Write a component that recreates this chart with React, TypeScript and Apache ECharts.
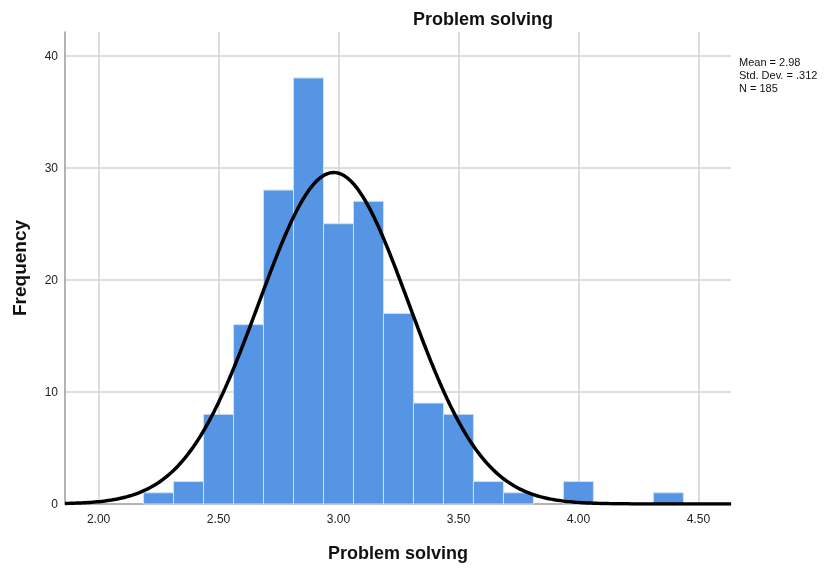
import React, { useEffect, useRef } from "react";
import * as echarts from "echarts";

// Histogram data (bin centers, bin width 0.125)
const binCenters = [2.25, 2.375, 2.5, 2.625, 2.75, 2.875, 3.0, 3.125, 3.25, 3.375, 3.5, 3.625, 3.75, 3.875, 4.0, 4.125, 4.25, 4.375];
const counts = [1, 2, 8, 16, 28, 38, 25, 27, 17, 9, 8, 2, 1, 0, 2, 0, 0, 1];
const binWidth = 0.125;

// Displayed statistics (normal curve parameters)
const statMean = 2.98;
const statSd = 0.312;
const statN = 185;
const statLabels = ["Mean = 2.98", "Std. Dev. = .312", "N = 185"];

const xTicks = [2.0, 2.5, 3.0, 3.5, 4.0, 4.5];
const yTicks = [0, 10, 20, 30, 40];
const xMin = 1.86;
const xMax = 4.636;
const yMax = 42.1;

const title = "Problem solving";
const xName = "Problem solving";
const yName = "Frequency";

export default function App() {
  const ref = useRef<HTMLDivElement>(null);
  useEffect(() => {
    if (!ref.current) return;
    const chart = echarts.init(ref.current, null, { renderer: "svg" });

    const curve: number[][] = [];
    const steps = 300;
    for (let i = 0; i <= steps; i++) {
      const x = xMin + ((xMax - xMin) * i) / steps;
      const z = (x - statMean) / statSd;
      const y = (statN * binWidth) / (statSd * Math.sqrt(2 * Math.PI)) * Math.exp(-0.5 * z * z);
      curve.push([x, y]);
    }

    const bars = binCenters.map((c, i) => [c - binWidth / 2, c + binWidth / 2, counts[i]]).filter((d) => d[2] > 0);

    const gridLine = { color: "#d2d2d2", width: 1.5, type: "solid" as const };

    chart.setOption({
      animation: false,
      textStyle: { fontFamily: "Liberation Sans, Arial, sans-serif" },
      title: {
        text: title,
        left: 413,
        top: 10,
        padding: 0,
        textStyle: { fontSize: 18, fontWeight: "bold", color: "#111", fontFamily: "Liberation Sans, Arial, sans-serif" },
      },
      graphic: [
        {
          type: "text",
          left: 739,
          top: 55,
          style: {
            text: statLabels.join("\n"),
            fontSize: 11,
            lineHeight: 13,
            fill: "#111",
            fontFamily: "Liberation Sans, Arial, sans-serif",
          },
        },
      ],
      grid: { left: 65, right: 101, top: 32, bottom: 64, containLabel: false, outerBoundsMode: "none" },
      xAxis: {
        type: "value",
        min: xMin,
        max: xMax,
        name: xName,
        nameLocation: "middle",
        nameGap: 40,
        nameTextStyle: { fontSize: 18, fontWeight: "bold", color: "#111" },
        axisLine: { show: true, onZero: false, lineStyle: { color: "#9a9a9a", width: 1.5 } },
        axisTick: { show: false },
        splitLine: { show: false },
        axisLabel: {
          customValues: xTicks,
          formatter: (v: number) => v.toFixed(2),
          fontSize: 12,
          color: "#222",
          margin: 9,
        },
      },
      yAxis: {
        type: "value",
        min: 0,
        max: yMax,
        name: yName,
        nameLocation: "middle",
        nameGap: 36,
        nameTextStyle: { fontSize: 19, fontWeight: "bold", color: "#111" },
        axisLine: { show: true, lineStyle: { color: "#9a9a9a", width: 1.5 } },
        axisTick: { show: false },
        splitLine: { show: false },
        axisLabel: {
          customValues: yTicks,
          fontSize: 12,
          color: "#222",
          margin: 7,
        },
      },
      series: [
        {
          type: "line",
          data: [],
          silent: true,
          z: 0,
          markLine: {
            silent: true,
            symbol: "none",
            label: { show: false },
            lineStyle: gridLine,
            z: 0,
            data: [
              ...xTicks.map((v) => ({ xAxis: v })),
              ...yTicks.filter((v) => v > 0).map((v) => ({ yAxis: v })),
            ],
          },
        },
        {
          type: "custom",
          data: bars,
          z: 3,
          renderItem: (params: any, api: any) => {
            const lo = api.value(0);
            const hi = api.value(1);
            const c = api.value(2);
            const p0 = api.coord([lo, c]);
            const p1 = api.coord([hi, 0]);
            return {
              type: "rect",
              shape: { x: p0[0], y: p0[1], width: p1[0] - p0[0], height: p1[1] - p0[1] },
              style: { fill: "#5595e3", stroke: "#cfe0f7", lineWidth: 1 },
            };
          },
          encode: { x: [0, 1], y: 2 },
        },
        {
          type: "line",
          data: curve,
          showSymbol: false,
          smooth: false,
          lineStyle: { color: "#000", width: 3.5 },
          z: 5,
        },
      ],
    });
    return () => chart.dispose();
  }, []);
  return <div ref={ref} style={{ position: "fixed", left: 0, top: 0, width: 832, height: 568 }} />;
}
